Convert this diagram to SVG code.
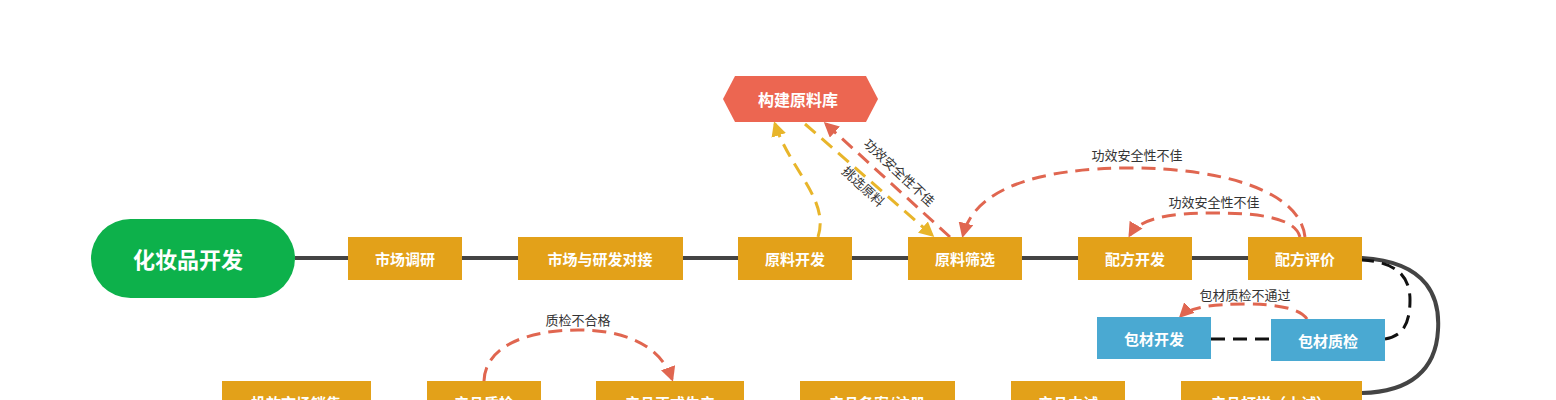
<svg xmlns="http://www.w3.org/2000/svg" width="1556" height="400" viewBox="0 0 1556 400">
<style>
.n{fill:#e3a119}.b{fill:#4aa9d2}
.t{font-family:"Noto Sans CJK SC",sans-serif;font-weight:bold;font-size:15px;fill:#fff;text-anchor:middle;dominant-baseline:central}
.l{font-family:"Noto Sans CJK SC",sans-serif;font-size:13px;fill:#333;text-anchor:middle}
.r{fill:none;stroke:#e06650;stroke-width:3;stroke-dasharray:14 8}
.y{fill:none;stroke:#e8b52a;stroke-width:3;stroke-dasharray:14 8}
.k{fill:none;stroke:#111;stroke-width:3;stroke-dasharray:14 8}
</style>
<defs>
<marker id="ar" viewBox="0 0 10 10" refX="8" refY="5" markerWidth="5" markerHeight="5" orient="auto"><path d="M0,0L10,5L0,10z" fill="#e06650"/></marker>
<marker id="ay" viewBox="0 0 10 10" refX="8" refY="5" markerWidth="5" markerHeight="5" orient="auto"><path d="M0,0L10,5L0,10z" fill="#e8b52a"/></marker>
</defs>
<g id="connectors">
<path d="M295,258H1362C1430,262 1440,300 1438,330C1436,370 1410,392 1362,393" fill="none" stroke="#444" stroke-width="4"/>
<path class="k" d="M1211,339H1271"/>
<path class="k" d="M1385,339C1405,336 1410,320 1410,300C1410,275 1395,262 1362,260"/>
<path class="r" d="M1305,237C1300,190 1220,168 1130,168C1040,168 975,188 963,235" marker-end="url(#ar)"/>
<text class="l" x="1137" y="160">功效安全性不佳</text>
<path class="r" d="M1300,237C1295,218 1260,213 1215,213C1170,213 1140,218 1130,235" marker-end="url(#ar)"/>
<text class="l" x="1214" y="207">功效安全性不佳</text>
<path class="r" d="M950,237L826,124" marker-end="url(#ar)"/>
<text class="l" transform="translate(896,176) rotate(43)">功效安全性不佳</text>
<path class="y" d="M805,124L932,235" marker-end="url(#ay)"/>
<text class="l" transform="translate(860,190) rotate(43)">挑选原料</text>
<path class="y" d="M818,237C830,200 790,170 775,124" marker-end="url(#ay)"/>
<path class="r" d="M1307,319C1300,308 1275,304 1245,304C1215,304 1190,307 1181,316" marker-end="url(#ar)"/>
<text class="l" x="1245" y="300">包材质检不通过</text>
<path class="r" d="M484,381C485,345 530,330 578,330C625,330 660,345 672,379" marker-end="url(#ar)"/>
<text class="l" x="578" y="325">质检不合格</text>
</g>
<g id="start"><rect x="91" y="219" width="204" height="79" rx="39.5" fill="#0db14b"/><text class="t" x="188" y="258" style="font-size:22px">化妆品开发</text></g>
<g id="n1"><rect class="n" x="348" y="237" width="114" height="43"/><text class="t" x="405" y="258">市场调研</text></g>
<g id="n2"><rect class="n" x="518" y="237" width="165" height="43"/><text class="t" x="600" y="258">市场与研发对接</text></g>
<g id="n3"><rect class="n" x="738" y="237" width="114" height="43"/><text class="t" x="795" y="258">原料开发</text></g>
<g id="n4"><rect class="n" x="908" y="237" width="114" height="43"/><text class="t" x="965" y="258">原料筛选</text></g>
<g id="n5"><rect class="n" x="1078" y="237" width="114" height="43"/><text class="t" x="1135" y="258">配方开发</text></g>
<g id="n6"><rect class="n" x="1248" y="237" width="114" height="43"/><text class="t" x="1305" y="258">配方评价</text></g>
<g id="hex"><polygon points="735,76 866,76 878,99 866,122 735,122 723,99" fill="#ec6651"/><text class="t" x="798" y="99" style="font-size:16px">构建原料库</text></g>
<g id="p1"><rect class="b" x="1097" y="317" width="114" height="42"/><text class="t" x="1154" y="338">包材开发</text></g>
<g id="p2"><rect class="b" x="1271" y="319" width="114" height="42"/><text class="t" x="1328" y="340">包材质检</text></g>
<g id="b1"><rect class="n" x="222" y="381" width="149" height="43"/><text class="t" x="296" y="402">投放市场销售</text></g>
<g id="b2"><rect class="n" x="427" y="381" width="114" height="43"/><text class="t" x="484" y="402">产品质检</text></g>
<g id="b3"><rect class="n" x="596" y="381" width="148" height="43"/><text class="t" x="670" y="402">产品正式生产</text></g>
<g id="b4"><rect class="n" x="800" y="381" width="155" height="43"/><text class="t" x="877" y="402">产品备案/注册</text></g>
<g id="b5"><rect class="n" x="1011" y="381" width="114" height="43"/><text class="t" x="1068" y="402">产品中试</text></g>
<g id="b6"><rect class="n" x="1181" y="381" width="181" height="43"/><text class="t" x="1271" y="402">产品打样（小试）</text></g>
</svg>
